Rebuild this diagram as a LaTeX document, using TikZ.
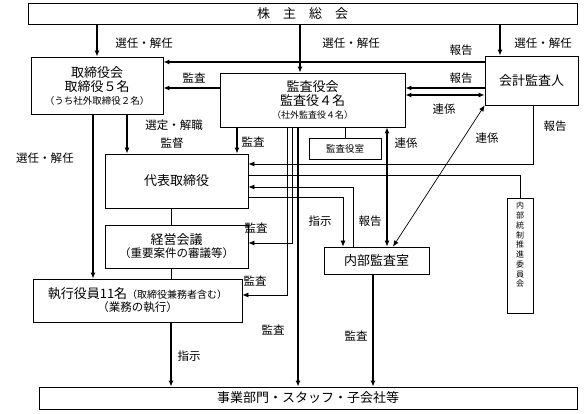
\documentclass[tikz,border=0pt]{standalone}
\usepackage{fontspec}
\setmainfont{Noto Sans CJK JP}
\usetikzlibrary{arrows.meta}

\begin{document}
\begin{tikzpicture}[x=1pt,y=-1pt,
    >={Latex[length=6pt,width=5pt]},
    box/.style={draw,line width=0.8pt,inner sep=1pt,align=center,font=\fontsize{13}{16}\selectfont},
    lbl/.style={inner sep=0pt,font=\fontsize{11.5}{13}\selectfont},
    small/.style={font=\fontsize{9.5}{11}\selectfont},
    thk/.style={line width=1.4pt},
    thn/.style={line width=0.7pt}]
  \useasboundingbox (0,0) rectangle (585,414);
  % boxes
  \node[box,minimum width=549,minimum height=21] (soukai) at (302.5,13.5) {株\quad 主\quad 総\quad 会};
  \node[box,minimum width=132,minimum height=57] (torishimari) at (97,85.5)
    {取締役会\\[-2pt]取締役５名\\[-3pt]{\fontsize{9.5}{11}\selectfont （うち社外取締役２名）}};
  \node[box,minimum width=185,minimum height=54] (kansayaku) at (312.5,100)
    {監査役会\\[-2pt]監査役４名\\[-3pt]{\fontsize{9}{11}\selectfont （社外監査役４名）}};
  \node[box,small,minimum width=72,minimum height=21] (shitsu) at (345,148.5) {監査役室};
  \node[box,minimum width=93,minimum height=49] (kaikei) at (531.5,80.5) {会計監査人};
  \node[box,minimum width=143,minimum height=54] (daihyo) at (176.5,181) {代表取締役};
  \node[box,minimum width=143,minimum height=43] (keiei) at (176.5,246.5)
    {経営会議\\[-3pt]{\fontsize{11.5}{13}\selectfont （重要案件の審議等）}};
  \node[box,minimum width=209,minimum height=43] (shikkou) at (137.5,300.5)
    {執行役員11名{\fontsize{10}{12}\selectfont （取締役兼務者含む）}\\[-3pt]{\fontsize{11.5}{13}\selectfont （業務の執行）}};
  \node[box,minimum width=105,minimum height=27] (naibu) at (376.5,260.5) {内部監査室};
  \node[draw,line width=0.8pt,minimum width=26,minimum height=115] (iinkai) at (520,255.5) {};
  \node[anchor=north,inner sep=0pt,align=center,font=\fontsize{8}{9.75}\selectfont] (iinkaitxt) at (520,202)
    {内\\部\\統\\制\\推\\進\\委\\員\\会};
  \node[box,minimum width=538,minimum height=22] (jigyo) at (308,398) {事業部門・スタッフ・子会社等};
  % connectors
  \draw[thk,->] (soukai.south -| 97,0) -- (torishimari.north);
  \draw[thk,->] (soukai.south -| 300,0) -- (kansayaku.north -| 300,0);
  \draw[thk,->] (soukai.south -| 500,0) -- (kaikei.north -| 500,0);
  \draw[thk,->] (kaikei.west |- 0,62) -- (torishimari.east |- 0,62);
  \draw[thk,->] (kansayaku.west |- 0,88) -- (torishimari.east |- 0,88);
  \draw[thk,->] (kaikei.west |- 0,88) -- (kansayaku.east |- 0,88);
  \draw[thk,<->] (kaikei.west |- 0,95) -- (kansayaku.east |- 0,95);
  \draw[thk,->] (torishimari.south -| 93,0) -- (shikkou.north -| 93,0);
  \draw[thk,->] (torishimari.south -| 127,0) -- (daihyo.north -| 127,0);
  \draw[thk,->] (kansayaku.south -| 237,0) -- (daihyo.north -| 237,0);
  \draw[thn] (shitsu.north) -- (kansayaku.south -| shitsu.north);
  \draw[thn,->] (kaikei.south -| 533,0) |- (daihyo.east |- 0,164);
  \draw[thn] (daihyo.east |- 0,175) -| (iinkai.north);
  \draw[thn,->] (naibu.north -| 353,0) |- (daihyo.east |- 0,187);
  \draw[thn,->] (daihyo.east |- 0,197) -| (naibu.north -| 343,0);
  \draw[thk,<->] (kansayaku.south -| 387,0) -- (naibu.north -| 387,0);
  \draw[thn,<->] (naibu.north -| 393,0) -- (kaikei.south west);
  \draw[thn,->] (kansayaku.south -| 292,0) |- (keiei.east |- 0,243);
  \draw[thn,->] (kansayaku.south -| 287,0) |- (shikkou.east |- 0,295);
  \draw[thk,->] (kansayaku.south -| 298,0) -- (jigyo.north -| 298,0);
  \draw[thn] (daihyo.south -| 171,0) -- (keiei.north -| 171,0);
  \draw[thn] (keiei.south -| 171,0) -- (shikkou.north -| 171,0);
  \draw[thk,->] (shikkou.south -| 171,0) -- (jigyo.north -| 171,0);
  \draw[thk,->] (naibu.south -| 373,0) -- (jigyo.north -| 373,0);
  % labels
  \node[lbl] (lbA) at (144,43) {選任・解任};
  \node[lbl] (lbB) at (351,43) {選任・解任};
  \node[lbl] (lbC) at (543,43) {選任・解任};
  \node[lbl] (lbD) at (461,50) {報告};
  \node[lbl] (lbE) at (461,78) {報告};
  \node[lbl] (lbF) at (194,78) {監査};
  \node[lbl] (lbG) at (444,109) {連係};
  \node[lbl] (lbH) at (174,125) {選定・解職};
  \node[lbl] (lbI) at (172,143) {監督};
  \node[lbl] (lbJ) at (253,142) {監査};
  \node[lbl] (lbK) at (406,143) {連係};
  \node[lbl] (lbL) at (487,138) {連係};
  \node[lbl] (lbM) at (555,126) {報告};
  \node[lbl] (lbN) at (45,158) {選任・解任};
  \node[lbl] (lbO) at (256,228) {監査};
  \node[lbl] (lbP) at (320,221) {指示};
  \node[lbl] (lbQ) at (370,221) {報告};
  \node[lbl] (lbR) at (255,281) {監査};
  \node[lbl] (lbS) at (273,330) {監査};
  \node[lbl] (lbT) at (356,336) {監査};
  \node[lbl] (lbU) at (189,356) {指示};
\end{tikzpicture}
\end{document}
